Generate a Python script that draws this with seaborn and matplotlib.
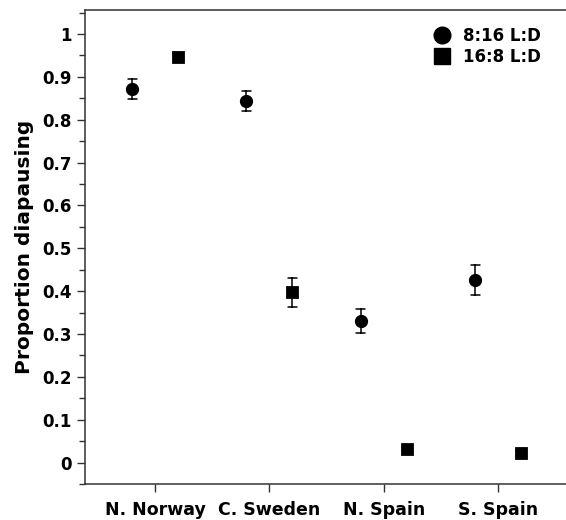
import matplotlib
matplotlib.use("Agg")
import matplotlib.pyplot as plt
from matplotlib.lines import Line2D
from matplotlib.ticker import MultipleLocator
import numpy as np
import pandas as pd
import seaborn as sns

# ---- data ----
populations = ["N. Norway", "C. Sweden", "N. Spain", "S. Spain"]
photoperiods = ["8:16 L:D", "16:8 L:D"]
mean_short = [0.872, 0.844, 0.331, 0.425]   # 8:16 L:D (circles)
se_short = [0.023, 0.024, 0.028, 0.035]
mean_long = [0.947, 0.397, 0.032, 0.023]    # 16:8 L:D (squares)
se_long = [0.008, 0.034, 0.005, 0.005]
ytick_vals = [0, 0.1, 0.2, 0.3, 0.4, 0.5, 0.6, 0.7, 0.8, 0.9, 1]
ytick_labels = ["0", "0.1", "0.2", "0.3", "0.4", "0.5", "0.6", "0.7", "0.8", "0.9", "1"]

# table: lower / mean / upper per group so that median = mean and full range = +-SE
rows = []
for period, means, ses in [(photoperiods[0], mean_short, se_short),
                           (photoperiods[1], mean_long, se_long)]:
    for pop, m, s in zip(populations, means, ses):
        for v in (m - s, m, m + s):
            rows.append({"Population": pop, "Photoperiod": period, "Proportion": v})
df = pd.DataFrame(rows)

sns.set_style("ticks")
plt.rcParams["font.family"] = ["DejaVu Sans"]
plt.rcParams["font.weight"] = "bold"
plt.rcParams["text.color"] = "black"
plt.rcParams["axes.labelcolor"] = "black"

fig = plt.figure(figsize=(5.66, 5.2), dpi=100)
ax = fig.add_axes([85 / 566, 36 / 520, 483 / 566, 474 / 520])

sns.pointplot(
    data=df, x="Population", y="Proportion", hue="Photoperiod",
    order=populations, hue_order=photoperiods,
    estimator="median", errorbar=("pi", 100),
    markers=["o", "s"], linestyle="none", dodge=0.4,
    palette=["black", "black"], capsize=0.08,
    err_kws={"linewidth": 1.1}, markersize=7.5,
    ax=ax, legend=False,
)

ax.set_xlim(-0.612, 3.612)
ax.set_ylim(-0.05, 1.056)
ax.set_yticks(ytick_vals)
ax.set_yticklabels(ytick_labels)
ax.yaxis.set_minor_locator(MultipleLocator(0.05))
ax.set_xlabel("")
ax.set_ylabel("Proportion diapausing", fontsize=14.5, fontweight="bold",
              color="black", labelpad=6)

for side in ["left", "bottom", "top"]:
    ax.spines[side].set_visible(True)
    ax.spines[side].set_color("#333333")
    ax.spines[side].set_linewidth(1.1)
ax.spines["right"].set_visible(False)

ax.tick_params(axis="y", which="major", length=6, width=1, labelsize=12, direction="out", colors="#333333", labelcolor="black")
ax.tick_params(axis="y", which="minor", length=4, width=1, direction="out", colors="#333333")
ax.tick_params(axis="x", which="major", length=6, width=1, labelsize=12.5, direction="out", colors="#333333", labelcolor="black", pad=6)
for lab in ax.get_xticklabels() + ax.get_yticklabels():
    lab.set_fontweight("bold")

handles = [
    Line2D([], [], marker="o", linestyle="none", color="black", markersize=12),
    Line2D([], [], marker="s", linestyle="none", color="black", markersize=11),
]
leg = ax.legend(handles, photoperiods, loc="upper right", bbox_to_anchor=(0.965, 0.985),
                frameon=False, prop={"weight": "bold", "size": 12},
                handletextpad=0.3, labelspacing=0.15, borderaxespad=0.2)
for t in leg.get_texts():
    t.set_color("black")

fig.savefig("out.png", dpi=100)
